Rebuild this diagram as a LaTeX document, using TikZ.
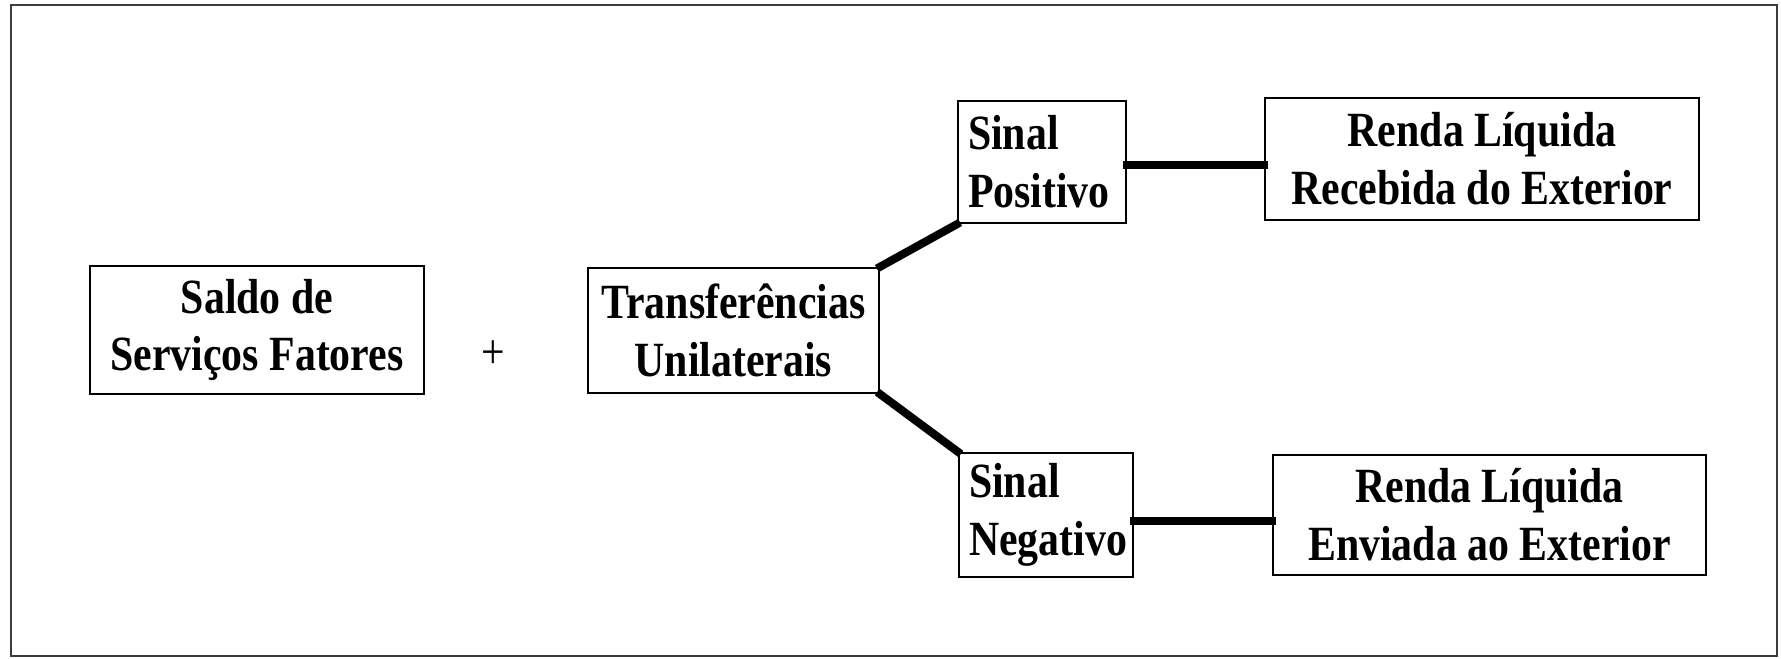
\documentclass[tikz,border=0pt]{standalone}
\usepackage{fontspec}
\usepackage{tikz}
\usetikzlibrary{positioning, calc}
\newfontfamily\diagfont{Liberation Serif}[FakeStretch=0.85]
\definecolor{framegray}{RGB}{60, 60, 60}
\tikzset{
  ligacao/.style={line width=2.3pt, black, line cap=rect},
  moldura/.style={draw=framegray, line width=0.6pt}
}

\begin{document}
\begin{tikzpicture}[
    contabox/.style={draw, line width=0.8pt, inner sep=0.1cm, align=center,
      font=\diagfont\bfseries\fontsize{14}{16.5}\selectfont},
    sinalbox/.style={draw, line width=0.8pt, inner sep=0.1cm, align=left,
      font=\diagfont\bfseries\fontsize{14}{16.5}\selectfont}]

    % Define rows manually
    \def\yMeio{3.28}
    \def\yCima{4.96}
    \def\yBaixo{1.43}

    % Frame
    \useasboundingbox (0,0) rectangle (17.81,6.58);
    \draw[moldura] (0.11,0.02) rectangle (17.77,6.53);

    % Left part
    \node[contabox, minimum width=3.34cm, minimum height=1.28cm] (saldo) at (2.57, \yMeio) {Saldo de\\Serviços Fatores};
    \node[font=\diagfont\fontsize{14}{16.5}\selectfont] (mais) at (4.93, 3.03) {+};
    \node[contabox, minimum width=2.91cm, minimum height=1.25cm, inner sep=0pt] (transf) at (7.335, 3.275) {Transferências\\Unilaterais};

    % Signs
    \node[sinalbox, text width=1.48cm, minimum height=1.22cm] (pos) at (10.42, \yCima) {Sinal\\Positivo};
    \node[sinalbox, text width=1.54cm, minimum height=1.24cm] (neg) at (10.46, \yBaixo) {Sinal\\Negativo};

    % Net income
    \node[contabox, minimum width=4.34cm, minimum height=1.22cm] (rec) at (14.82, 4.99) {Renda Líquida\\Recebida do Exterior};
    \node[contabox, minimum width=4.33cm, minimum height=1.20cm] (env) at (14.895, \yBaixo) {Renda Líquida\\Enviada ao Exterior};

    % Connections
    \draw[ligacao] (transf.north east) -- (pos.south west);
    \draw[ligacao] (transf.south east) -- (neg.north west);
    \draw[ligacao] ($(pos.east)+(0,-0.03)$) -- ($(pos.east -| rec.west)+(0,-0.03)$);
    \draw[ligacao] ($(neg.east)+(0,-0.06)$) -- ($(neg.east -| env.west)+(0,-0.06)$);

\end{tikzpicture}
\end{document}
